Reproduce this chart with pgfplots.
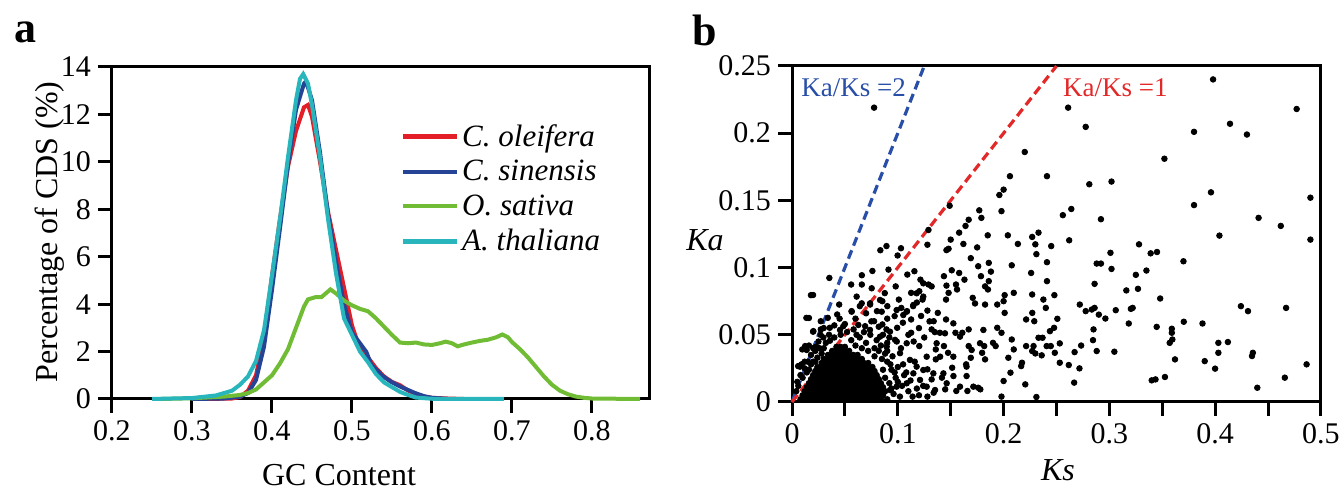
\documentclass[border=0pt]{standalone}
\usepackage{fontspec}
\setmainfont{Liberation Serif}
\usepackage{pgfplots}
\pgfplotsset{compat=1.18}

\definecolor{cRed}{RGB}{228,30,38}
\definecolor{cBlue}{RGB}{38,68,150}
\definecolor{cGreen}{RGB}{112,188,52}
\definecolor{cCyan}{RGB}{40,182,188}
\definecolor{lBlue}{RGB}{40,78,168}
\definecolor{lRed}{RGB}{226,40,40}

\pgfplotsset{
  panel/.style={
    scale only axis,
    axis line style={line width=1.5pt},
    tick style={line width=1.5pt, black},
    major tick length=7pt,
    tick align=outside,
    xtick pos=bottom, ytick pos=left,
    clip=false,
    tick label style={font=\fontsize{15}{18}\selectfont},
    /pgf/number format/assume math mode=true,
  },
}

\begin{document}
\begin{tikzpicture}
\useasboundingbox (0,0) rectangle (670.5pt,245pt);

% ---------- panel a ----------
\begin{axis}[panel,
  at={(56pt,45.5pt)}, anchor=south west,
  width=269pt, height=166pt,
  xmin=0.2, xmax=0.8725, ymin=0, ymax=14,
  xtick={0.2,0.3,0.4,0.5,0.6,0.7,0.8},
  xticklabels={0.2,0.3,0.4,0.5,0.6,0.7,0.8},
  ytick={0,2,4,6,8,10,12,14},
  yticklabels={0,2,4,6,8,10,12,14},
  legend style={at={(rel axis cs:0.525,0.85)}, anchor=north west,
    draw=none, fill=none, font=\fontsize{15.5}{17}\selectfont,
    row sep=2.5pt, nodes={inner sep=1.5pt}},
  legend cell align=left,
  legend image code/.code={\draw[#1, line width=2.2pt] (0pt,0pt) -- (27pt,0pt);},
  every axis plot/.append style={line width=2pt},
]
\addplot[cRed] coordinates {
 (0.32,0) (0.35,0.02) (0.36,0.08) (0.37,0.35) (0.38,1.0) (0.39,2.6) (0.40,5.2)
 (0.41,7.6) (0.42,9.8) (0.43,11.3) (0.44,12.3) (0.445,12.4) (0.45,11.9)
 (0.46,10.0) (0.47,7.9) (0.48,6.3) (0.49,4.7) (0.50,3.1) (0.51,2.1) (0.515,1.85)
 (0.52,1.75) (0.53,1.3) (0.54,0.95) (0.55,0.72) (0.56,0.58) (0.57,0.36)
 (0.58,0.2) (0.59,0.1) (0.60,0.05) (0.62,0.02) (0.64,0)
};
\addlegendentry{\textit{C. oleifera}}
\addplot[cBlue] coordinates {
 (0.30,0) (0.34,0.02) (0.36,0.1) (0.37,0.25) (0.38,0.8) (0.39,2.2) (0.40,4.6)
 (0.41,7.2) (0.42,9.9) (0.43,12.2) (0.44,13.3) (0.4425,13.4) (0.45,12.6)
 (0.46,10.4) (0.47,7.8) (0.48,5.8) (0.49,4.0) (0.50,2.8) (0.51,2.35)
 (0.518,1.98) (0.524,1.45) (0.53,1.25) (0.537,1.0) (0.549,0.72) (0.561,0.51)
 (0.57,0.38) (0.579,0.25) (0.59,0.12) (0.60,0.05) (0.62,0)
};
\addlegendentry{\textit{C. sinensis}}
\addplot[cGreen] coordinates {
 (0.26,0) (0.30,0.03) (0.34,0.1) (0.36,0.17) (0.37,0.25) (0.38,0.4) (0.39,0.7)
 (0.40,1.0) (0.41,1.5) (0.42,2.1) (0.43,3.0) (0.44,3.9) (0.445,4.2) (0.455,4.3)
 (0.462,4.3) (0.473,4.62) (0.48,4.45) (0.49,4.15) (0.50,3.95) (0.51,3.8)
 (0.52,3.7) (0.53,3.4) (0.54,3.05) (0.55,2.7) (0.56,2.38) (0.57,2.35)
 (0.58,2.38) (0.59,2.3) (0.60,2.28) (0.61,2.35) (0.617,2.42) (0.625,2.35)
 (0.632,2.22) (0.64,2.3) (0.65,2.38) (0.66,2.45) (0.67,2.5) (0.68,2.6)
 (0.688,2.72) (0.695,2.6) (0.70,2.4) (0.71,2.1) (0.72,1.75) (0.73,1.35)
 (0.74,0.95) (0.75,0.6) (0.76,0.35) (0.77,0.2) (0.78,0.1) (0.79,0.05)
 (0.80,0.02) (0.86,0)
};
\addlegendentry{\textit{O. sativa}}
\addplot[cCyan] coordinates {
 (0.25,0) (0.30,0.04) (0.33,0.15) (0.35,0.35) (0.36,0.6) (0.37,0.95) (0.38,1.6)
 (0.39,2.9) (0.40,5.2) (0.41,7.6) (0.42,10.2) (0.43,12.6) (0.435,13.5)
 (0.439,13.7) (0.445,13.3) (0.45,12.4) (0.46,10.2) (0.47,7.6) (0.48,5.3)
 (0.49,3.4) (0.50,2.7) (0.51,2.0) (0.52,1.55) (0.53,1.05) (0.54,0.7)
 (0.55,0.5) (0.56,0.3) (0.57,0.17) (0.58,0.06) (0.60,0.01) (0.69,0)
};
\addlegendentry{\textit{A. thaliana}}
\end{axis}

% ---------- panel b ----------
\begin{axis}[panel,
  at={(396pt,44pt)}, anchor=south west,
  width=264.5pt, height=168pt,
  xmin=0, xmax=0.5, ymin=0, ymax=0.25,
  xtick={0,0.05,0.1,0.15,0.2,0.25,0.3,0.35,0.4,0.45,0.5},
  xticklabels={0,,0.1,,0.2,,0.3,,0.4,,0.5},
  ytick={0,0.05,0.1,0.15,0.2,0.25},
  yticklabels={0,0.05,0.1,0.15,0.2,0.25},
]
% sparse points
\addplot[only marks, mark=*, mark size=1.4pt, black] coordinates {
 (0.0776,0.219) (0.261,0.219) (0.398,0.240) (0.477,0.218) (0.2776,0.2047)
 (0.414,0.207) (0.380,0.201) (0.430,0.199) (0.220,0.186) (0.352,0.181)
 (0.206,0.168) (0.241,0.168) (0.302,0.164) (0.281,0.162) (0.200,0.158)
 (0.196,0.154) (0.396,0.156) (0.490,0.152) (0.380,0.1465) (0.149,0.146)
 (0.198,0.142) (0.177,0.1426) (0.264,0.1436) (0.256,0.139) (0.292,0.136)
 (0.441,0.137) (0.167,0.1356) (0.179,0.137) (0.462,0.131) (0.164,0.131)
 (0.158,0.126) (0.129,0.128) (0.233,0.126) (0.204,0.124) (0.185,0.124)
 (0.404,0.1238) (0.150,0.1208) (0.262,0.1203) (0.227,0.1228) (0.490,0.1208)
 (0.128,0.117) (0.148,0.114) (0.162,0.1176) (0.2135,0.1176) (0.230,0.1173)
 (0.245,0.116) (0.328,0.1173) (0.339,0.1106) (0.345,0.1116) (0.0835,0.1129)
 (0.0893,0.116) (0.103,0.1144) (0.0998,0.109) (0.146,0.113) (0.175,0.115)
 (0.169,0.107) (0.231,0.110) (0.301,0.111) (0.288,0.103) (0.292,0.103)
 (0.370,0.1047) (0.2077,0.1017) (0.186,0.1035) (0.176,0.101) (0.241,0.104)
 (0.302,0.099) (0.335,0.0978) (0.325,0.0946) (0.0353,0.0923) (0.066,0.0943)
 (0.076,0.0975) (0.0912,0.0985) (0.109,0.0948) (0.1157,0.0973) (0.1214,0.091)
 (0.1436,0.0936) (0.151,0.098) (0.158,0.096) (0.163,0.091) (0.1786,0.0936)
 (0.186,0.0899) (0.188,0.097) (0.226,0.096) (0.241,0.0899) (0.286,0.0879)
 (0.327,0.0842) (0.316,0.083) (0.348,0.077) (0.0559,0.0874) (0.066,0.0874)
 (0.098,0.086) (0.129,0.0874) (0.132,0.086) (0.146,0.0866) (0.155,0.0874)
 (0.148,0.0812) (0.156,0.0837) (0.1825,0.086) (0.1852,0.0837) (0.201,0.0795)
 (0.2096,0.0812) (0.227,0.08) (0.248,0.0795) (0.0179,0.0795) (0.0877,0.081)
 (0.101,0.0762) (0.1126,0.0812) (0.1203,0.0824) (0.1234,0.0762) (0.1456,0.0762)
 (0.1708,0.0775) (0.2,0.075) (0.2376,0.0762) (0.272,0.0725) (0.286,0.07)
 (0.3203,0.0693) (0.322,0.07) (0.4243,0.0713) (0.431,0.0676) (0.467,0.07)
 (0.2776,0.0676) (0.2834,0.0688) (0.290,0.065) (0.2962,0.0621) (0.306,0.0683)
 (0.194,0.0725) (0.1825,0.0725) (0.173,0.0733) (0.201,0.0663) (0.2399,0.07)
 (0.2271,0.0663) (0.2213,0.0614) (0.229,0.0601) (0.2508,0.0619) (0.2477,0.0552)
 (0.2438,0.0527) (0.3703,0.0597) (0.388,0.0584) (0.3183,0.0584) (0.3447,0.0559)
 (0.359,0.0545) (0.359,0.0515) (0.3595,0.0465) (0.357,0.044) (0.403,0.044)
 (0.412,0.0446) (0.403,0.0366) (0.4356,0.0366) (0.4348,0.0342) (0.362,0.0317)
 (0.3901,0.0304) (0.3999,0.0248) (0.4864,0.028) (0.340,0.0161) (0.3436,0.0168)
 (0.3525,0.0186) (0.4658,0.0181) (0.4398,0.0106) (0.2733,0.042) (0.2671,0.0371)
 (0.2880,0.0379) (0.2845,0.046) (0.285,0.054) (0.3047,0.0374) (0.2717,0.025)
 (0.2616,0.0275) (0.2667,0.0144) (0.2531,0.0292) (0.2484,0.0366) (0.2531,0.0436)
 (0.236,0.0347) (0.2407,0.0416) (0.233,0.0478) (0.2283,0.0416) (0.227,0.0379)
 (0.2213,0.0416) (0.2096,0.0391) (0.2077,0.0465) (0.198,0.0515) (0.194,0.0552)
 (0.190,0.044) (0.1925,0.0416) (0.2045,0.0329) (0.2174,0.0292) (0.2166,0.0267)
 (0.2065,0.0218) (0.200,0.0156) (0.2205,0.0131) (0.198,0.004) (0.231,0.0037)
 (0.230,0.0361) (0.2446,0.0416) (0.2368,0.0478) (0.178,0.0094) (0.176,0.0106)
 (0.1658,0.0082) (0.1553,0.0082) (0.1448,0.0094) (0.1339,0.0069) (0.1526,0.0193)
 (0.165,0.0193) (0.1514,0.0255) (0.1646,0.028) (0.169,0.0329) (0.1825,0.0317)
 (0.1797,0.0366) (0.1817,0.0416) (0.167,0.0416) (0.161,0.0515) (0.167,0.054)
 (0.1545,0.0515) (0.1398,0.0515) (0.1456,0.0614) (0.1339,0.0601) (0.1378,0.0663)
 (0.132,0.054) (0.1436,0.0416) (0.1359,0.0391) (0.1475,0.0366) (0.1359,0.0317)
 (0.1417,0.0181) (0.132,0.0168) (0.128,0.0243) (0.1203,0.0416) (0.1126,0.0515)
 (0.1126,0.0614) (0.1048,0.059) (0.0994,0.0552) (0.1087,0.0676) (0.1145,0.0713)
 (0.1033,0.07) (0.097,0.0639) (0.0901,0.0713) (0.0854,0.075) (0.0803,0.0676)
 (0.0738,0.0725) (0.0641,0.0713) (0.0563,0.0676) (0.0446,0.0725) (0.0427,0.0651)
 (0.0338,0.0626) (0.0272,0.0601) (0.0136,0.0626) (0.0202,0.0527) (0.0058,0.0267)
 (0.0097,0.0391) (0.0124,0.0416) (0.0272,0.054) (0.0357,0.0552) (0.0485,0.0564)
 (0.0582,0.054) (0.0691,0.0564) (0.0776,0.0601) (0.0854,0.0577) (0.0893,0.054)
 (0.0199,0.0796) (0.016,0.0625) (0.0199,0.0523) (0.0139,0.0387) (0.0076,0.0263)
 (0.0227,0.0412) (0.0296,0.048) (0.0359,0.0456) (0.0454,0.0536) (0.0564,0.0672)
 (0.0659,0.0734) (0.0738,0.0734) (0.0627,0.0573) (0.0737,0.0536) (0.0832,0.0486)
 (0.0926,0.0523) (0.0895,0.0412) (0.0974,0.0462) (0.1021,0.0363) (0.1084,0.0437)
 (0.1115,0.0313) (0.1178,0.0263) (0.1147,0.0213) (0.121,0.0164) (0.1084,0.0139)
 (0.0989,0.0114) (0.0926,0.0089) (0.0863,0.0064) (0.1273,0.0114) (0.1352,0.0089)
 (0.1336,0.0213) (0.1241,0.0238) (0.1273,0.0337) (0.1431,0.0213) (0.14,0.0337)
 (0.1367,0.0437) (0.1446,0.0511) (0.1525,0.0585) (0.1588,0.0486) (0.1525,0.0337)
 (0.1462,0.0139) (0.1588,0.0114) (0.1714,0.0114) (0.165,0.0263) (0.1698,0.0387)
 (0.1777,0.0437) (0.1809,0.0536) (0.0989,0.0684) (0.1052,0.0647) (0.1147,0.0722)
 (0.1241,0.0784) (0.1241,0.0883) (0.1178,0.0809) (0.1084,0.0672) (0.0848,0.0672)
 (0.0832,0.0759) (0.0611,0.0784) (0.0753,0.0846)
 (0.005,0.015) (0.008,0.02) (0.010,0.018) (0.012,0.025) (0.015,0.03)
 (0.018,0.035) (0.020,0.030) (0.022,0.038) (0.025,0.045) (0.018,0.028)
 (0.014,0.022) (0.020,0.040) (0.027,0.050) (0.030,0.040) (0.024,0.033)
 (0.090,0.030) (0.094,0.024) (0.098,0.018) (0.092,0.014) (0.096,0.006)
 (0.102,0.004) (0.104,0.012) (0.100,0.026) (0.106,0.020) (0.088,0.036)
 (0.084,0.042) (0.078,0.040) (0.070,0.044) (0.064,0.048) (0.056,0.046)
 (0.110,0.008) (0.114,0.004) (0.118,0.010) (0.095,0.034) (0.086,0.024)
 (0.085,0.032) (0.090,0.038) (0.093,0.028) (0.097,0.022) (0.100,0.015)
 (0.105,0.028) (0.108,0.022) (0.112,0.016) (0.116,0.030) (0.120,0.005)
 (0.124,0.012) (0.128,0.004) (0.103,0.040) (0.099,0.045) (0.092,0.048)
 (0.086,0.050) (0.080,0.046) (0.074,0.050) (0.068,0.052) (0.061,0.050)
 (0.052,0.052) (0.046,0.050) (0.040,0.048) (0.035,0.050) (0.030,0.055)
 (0.026,0.040) (0.032,0.044) (0.075,0.060) (0.082,0.056) (0.090,0.062)
 (0.070,0.066) (0.060,0.062) (0.050,0.058) (0.045,0.062) (0.040,0.057)
 (0.110,0.050) (0.115,0.045) (0.120,0.055) (0.125,0.048) (0.130,0.060)
 (0.135,0.052) (0.128,0.068) (0.122,0.064) (0.118,0.074) (0.016,0.042)
 (0.012,0.030) (0.009,0.028) (0.006,0.012) (0.004,0.008) (0.028,0.036)
 (0.022,0.030) (0.016,0.024) (0.090,0.002) (0.094,0.010) (0.088,0.018)
 (0.090,0.044) (0.082,0.038) (0.078,0.034) (0.072,0.038) (0.066,0.040)
 (0.060,0.042)
};
% dense cluster near the origin
\addplot[only marks, mark=*, mark size=1.4pt, black] coordinates {
 (0.008,0.002) (0.012,0.002) (0.016,0.002) (0.020,0.002) (0.024,0.002) (0.028,0.002)
 (0.032,0.002) (0.036,0.002) (0.040,0.002) (0.044,0.002) (0.048,0.002) (0.052,0.002)
 (0.056,0.002) (0.060,0.002) (0.064,0.002) (0.068,0.002) (0.072,0.002) (0.076,0.002)
 (0.080,0.002) (0.084,0.002)
 (0.010,0.005) (0.014,0.005) (0.018,0.005) (0.022,0.005) (0.026,0.005) (0.030,0.005)
 (0.034,0.005) (0.038,0.005) (0.042,0.005) (0.046,0.005) (0.050,0.005) (0.054,0.005)
 (0.058,0.005) (0.062,0.005) (0.066,0.005) (0.070,0.005) (0.074,0.005) (0.078,0.005)
 (0.082,0.005) (0.086,0.005)
 (0.012,0.008) (0.016,0.008) (0.020,0.008) (0.024,0.008) (0.028,0.008) (0.032,0.008)
 (0.036,0.008) (0.040,0.008) (0.044,0.008) (0.048,0.008) (0.052,0.008) (0.056,0.008)
 (0.060,0.008) (0.064,0.008) (0.068,0.008) (0.072,0.008) (0.076,0.008) (0.080,0.008)
 (0.084,0.008) (0.088,0.008)
 (0.014,0.011) (0.018,0.011) (0.022,0.011) (0.026,0.011) (0.030,0.011) (0.034,0.011)
 (0.038,0.011) (0.042,0.011) (0.046,0.011) (0.050,0.011) (0.054,0.011) (0.058,0.011)
 (0.062,0.011) (0.066,0.011) (0.070,0.011) (0.074,0.011) (0.078,0.011) (0.082,0.011)
 (0.086,0.011)
 (0.016,0.014) (0.020,0.014) (0.024,0.014) (0.028,0.014) (0.032,0.014) (0.036,0.014)
 (0.040,0.014) (0.044,0.014) (0.048,0.014) (0.052,0.014) (0.056,0.014) (0.060,0.014)
 (0.064,0.014) (0.068,0.014) (0.072,0.014) (0.076,0.014) (0.080,0.014) (0.084,0.014)
 (0.018,0.017) (0.022,0.017) (0.026,0.017) (0.030,0.017) (0.034,0.017) (0.038,0.017)
 (0.042,0.017) (0.046,0.017) (0.050,0.017) (0.054,0.017) (0.058,0.017) (0.062,0.017)
 (0.066,0.017) (0.070,0.017) (0.074,0.017) (0.078,0.017) (0.082,0.017)
 (0.020,0.020) (0.024,0.020) (0.028,0.020) (0.032,0.020) (0.036,0.020) (0.040,0.020)
 (0.044,0.020) (0.048,0.020) (0.052,0.020) (0.056,0.020) (0.060,0.020) (0.064,0.020)
 (0.068,0.020) (0.072,0.020) (0.076,0.020) (0.080,0.020)
 (0.022,0.023) (0.026,0.023) (0.030,0.023) (0.034,0.023) (0.038,0.023) (0.042,0.023)
 (0.046,0.023) (0.050,0.023) (0.054,0.023) (0.058,0.023) (0.062,0.023) (0.066,0.023)
 (0.070,0.023) (0.074,0.023) (0.078,0.023)
 (0.024,0.026) (0.028,0.026) (0.032,0.026) (0.036,0.026) (0.040,0.026) (0.044,0.026)
 (0.048,0.026) (0.052,0.026) (0.056,0.026) (0.060,0.026) (0.064,0.026) (0.068,0.026)
 (0.072,0.026) (0.076,0.026)
 (0.028,0.029) (0.032,0.029) (0.036,0.029) (0.040,0.029) (0.044,0.029) (0.048,0.029)
 (0.052,0.029) (0.056,0.029) (0.060,0.029) (0.064,0.029) (0.068,0.029) (0.072,0.029)
 (0.030,0.032) (0.034,0.032) (0.038,0.032) (0.042,0.032) (0.046,0.032) (0.050,0.032)
 (0.054,0.032) (0.058,0.032) (0.062,0.032) (0.066,0.032)
 (0.034,0.035) (0.038,0.035) (0.042,0.035) (0.046,0.035) (0.050,0.035) (0.054,0.035)
 (0.058,0.035) (0.062,0.035)
 (0.038,0.038) (0.042,0.038) (0.046,0.038) (0.050,0.038) (0.054,0.038)
 (0.042,0.041) (0.046,0.041) (0.050,0.041)
};
\addplot[lBlue, line width=1.6pt, dash pattern=on 4.5pt off 2.5pt] coordinates {(0,0) (0.125,0.25)};
\addplot[lRed, line width=1.6pt, dash pattern=on 4.5pt off 2.5pt] coordinates {(0,0) (0.25,0.25)};
\node[anchor=base west, inner sep=0pt, text=lBlue, font=\fontsize{13.5}{16}\selectfont]
  at (axis cs:0.0085,0.227) {Ka/Ks =2};
\node[anchor=base west, inner sep=0pt, text=lRed, font=\fontsize{13.5}{16}\selectfont]
  at (axis cs:0.256,0.227) {Ka/Ks =1};
\end{axis}

% axis titles and panel letters
\node[rotate=90, font=\fontsize{16}{18}\selectfont] at (25pt,129pt) {Percentage of CDS (\%)};
\node[font=\fontsize{16}{18}\selectfont] at (169.5pt,7.5pt) {GC Content};
\node[font=\fontsize{16}{18}\selectfont\itshape] at (352.5pt,125pt) {Ka};
\node[font=\fontsize{16}{18}\selectfont\itshape] at (529pt,10pt) {Ks};
\node[font=\fontsize{22}{24}\selectfont\bfseries] at (12.5pt,229pt) {a};
\node[font=\fontsize{22}{24}\selectfont\bfseries] at (352.5pt,230pt) {b};
\end{tikzpicture}
\end{document}
